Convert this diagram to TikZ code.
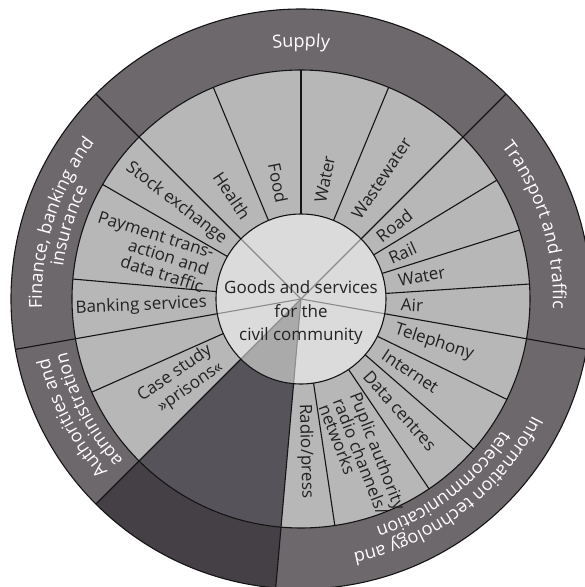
\documentclass[tikz,border=0pt]{standalone}
\usepackage{fontspec}
\setmainfont{Open Sans}
\usetikzlibrary{decorations.text}
\definecolor{outerc}{HTML}{6D686C}
\definecolor{midc}{HTML}{B8B7B8}
\definecolor{innerc}{HTML}{DCDBDC}
\definecolor{blankout}{HTML}{454045}
\definecolor{blankmid}{HTML}{57535A}
\definecolor{blankin}{HTML}{ABAAAB}
\definecolor{txt}{HTML}{222222}
\definecolor{spokec}{HTML}{8C8C8C}
\newcommand{\outfont}{\fontsize{18}{22}\selectfont\color{white}}
\begin{document}
\begin{tikzpicture}[x=1pt,y=1pt,
  seglabel/.style={font=\fontsize{17}{22}\selectfont, text=txt, inner sep=0pt},
  outlabel/.style={decorate, decoration={text along path, text align=center}},
  blackline/.style={draw=black!92, line width=1.1pt},
  spoke/.style={draw=spokec, line width=1.1pt}]
\useasboundingbox (-301,-288) rectangle (284,299);
% fills
\fill[outerc] (0,0) circle[radius=290];
\fill[blankout] (225:229) arc[start angle=225,end angle=265,radius=229] -- (265:290) arc[start angle=265,end angle=225,radius=290] -- cycle;
\fill[midc] (0,0) circle[radius=229];
\fill[blankmid] (225:85) arc[start angle=225,end angle=265,radius=85] -- (265:229) arc[start angle=265,end angle=225,radius=229] -- cycle;
\fill[innerc] (0,0) circle[radius=85];
\fill[blankin] (0,0) -- (225:85) arc[start angle=225,end angle=265,radius=85] -- cycle;
% spokes in inner circle
\foreach \a in {45,135,190,225,265,-10} \draw[spoke] (0,0) -- (\a:85);
% radial lines of middle ring
\foreach \a in {45,67.5,90,112.5,135,150,175,190,204,225,265,278.5,304,319,334,350,3.75,17.5,31.25}
  \draw[blackline] (\a:85) -- (\a:229);
% radial lines of outer ring
\foreach \a in {45,135,190,225,265,350}
  \draw[blackline] (\a:229) -- (\a:290);
% circles
\draw[blackline] (0,0) circle[radius=85];
\draw[blackline] (0,0) circle[radius=229];
\draw[blackline] (0,0) circle[radius=290];
% centre text
\node[font=\fontsize{17}{23.5}\selectfont, align=center, text=txt, inner sep=0pt] (centre) at (0,-14) {Goods and services\\for the\\civil community};
% middle ring labels
\node[seglabel, anchor=west, rotate=56.25] (wastewater) at (56.25:98) {Wastewater};
\node[seglabel, anchor=west, rotate=78.75] (watersup) at (78.75:98) {Water};
\node[seglabel, anchor=east, rotate=-78.75] (food) at (101.25:98) {Food};
\node[seglabel, anchor=east, rotate=-56.25] (health) at (123.75:98) {Health};
\node[seglabel, anchor=east, rotate=-37.5] (stock) at (142.5:96) {Stock exchange};
\node[seglabel, anchor=east, rotate=-17.5, align=right, font=\fontsize{17}{18}\selectfont] (payment) at (162.5:97) {Payment trans-\\action and\\data traffic};
\node[seglabel, anchor=east, rotate=2.5] (banking) at (182.5:94) {Banking services};
\node[seglabel, anchor=east, rotate=34.5, align=right, font=\fontsize{17}{20}\selectfont] (casestudy) at (214.5:103) {Case study\\»prisons«};
\node[seglabel, anchor=west, rotate=-88.25] (radio) at (-88.25:105) {Radio/press};
\node[seglabel, anchor=west, rotate=-68.75, align=left, font=\fontsize{17}{15.5}\selectfont] (public) at (-68.75:107) {Puplic authority\\radio channels/\\networks};
\node[seglabel, anchor=west, rotate=-48.5] (datac) at (-48.5:99) {Data centres};
\node[seglabel, anchor=west, rotate=-33.5] (internet) at (-33.5:99) {Internet};
\node[seglabel, anchor=west, rotate=-18] (telephony) at (-18:99) {Telephony};
\node[seglabel, anchor=west, rotate=-3.1] (air) at (-3.1:100) {Air};
\node[seglabel, anchor=west, rotate=10.6] (watertr) at (10.6:99) {Water};
\node[seglabel, anchor=west, rotate=24.4] (rail) at (24.4:97) {Rail};
\node[seglabel, anchor=west, rotate=38.1] (road) at (38.1:98) {Road};
% outer ring labels
\path[outlabel, decoration={text={|\outfont|Supply}}] (135:252) arc[start angle=135,end angle=45,radius=252];
\path[outlabel, decoration={text={|\outfont|Transport and traffic}}] (45:252) arc[start angle=45,end angle=-10,radius=252];
\path[outlabel, decoration={text={|\outfont|Finance, banking and}}] (190:259) arc[start angle=190,end angle=135,radius=259];
\path[outlabel, decoration={text={|\outfont|insurance}}] (190:240) arc[start angle=190,end angle=135,radius=240];
\path[outlabel, decoration={text={|\outfont|Authorities and}}] (225:259) arc[start angle=225,end angle=190,radius=259];
\path[outlabel, decoration={text={|\outfont|administration}}] (225:240) arc[start angle=225,end angle=190,radius=240];
\path[outlabel, decoration={text={|\outfont|Information technology and}}] (-10:259) arc[start angle=-10,end angle=-95,radius=259];
\path[outlabel, decoration={text={|\outfont|telecommunication}}] (-10:240) arc[start angle=-10,end angle=-95,radius=240];
\end{tikzpicture}
\end{document}
